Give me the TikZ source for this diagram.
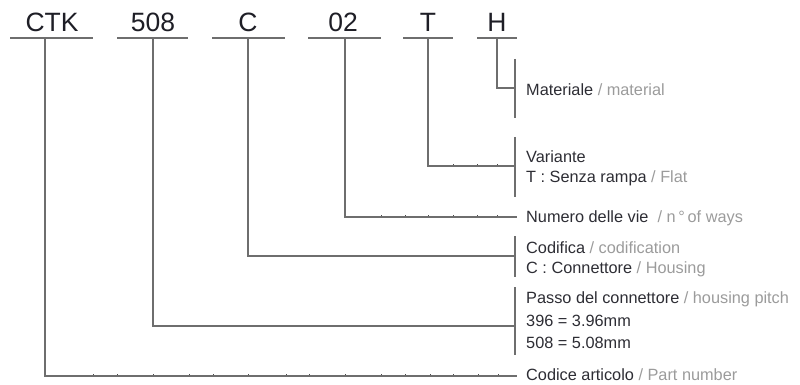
\documentclass[tikz,border=0pt]{standalone}
\usepackage{fontspec}
\setmainfont{Liberation Sans}
\definecolor{linec}{RGB}{110,110,110}
\definecolor{itc}{RGB}{45,45,52}
\definecolor{enc}{RGB}{155,155,155}
\definecolor{codec}{RGB}{30,30,38}
\begin{document}
\begin{tikzpicture}[x=1pt,y=-1pt]
\tikzset{
  code/.style={font=\fontsize{26.5}{30}\selectfont,text=codec,anchor=base,inner sep=0pt},
  desc/.style={font=\fontsize{16.3}{20}\selectfont,text=itc,anchor=base west,inner sep=0pt},
  ln/.style={draw=linec,line width=1.3pt},
  tk/.style={draw=linec!70!black,line width=0.9pt}
}
\useasboundingbox (0,0) rectangle (800,385);

% code labels
\node[code] (ctk) at (52,32) {CTK};
\node[code] (p508) at (153,32) {508};
\node[code] (cc) at (248,32) {C};
\node[code] (n02) at (343,32) {02};
\node[code] (tt) at (428,32) {T};
\node[code] (hh) at (497,32) {H};

% underlines
\draw[ln] (10,38) -- (93,38);
\draw[ln] (117,38) -- (188,38);
\draw[ln] (212,38) -- (285,38);
\draw[ln] (308,38) -- (381,38);
\draw[ln] (403,38) -- (453,38);
\draw[ln] (477,38) -- (517,38);

% top of the stems
\coordinate (sCTK) at (45,38);
\coordinate (s508) at (153,38);
\coordinate (sC) at (248,38);
\coordinate (s02) at (345,38);
\coordinate (sT) at (428,38);
\coordinate (sH) at (497,38);

% ends on the right
\coordinate (eH) at (515,88);
\coordinate (eT) at (515,166);
\coordinate (e02) at (517,217);
\coordinate (eC) at (515,256);
\coordinate (e508) at (515,326);
\coordinate (eCTK) at (517,376);

% brackets
\coordinate (bHt) at (515,59);   \coordinate (bHb) at (515,118);
\coordinate (bTt) at (515,137);  \coordinate (bTb) at (515,197);
\coordinate (bCt) at (515,236);  \coordinate (bCb) at (515,277);
\coordinate (b5t) at (515,287);  \coordinate (b5b) at (515,355);

% ticks
\foreach \x in {453,477,497} \draw[tk] (\x,166) -- (\x,164.2);
\foreach \x in {381,405,428,453,477,497} \draw[tk] (\x,217) -- (\x,215.2);
\foreach \x in {93,117,153,189,213,248,286,309,345,381,405,430,453,478,498} \draw[tk] (\x,376) -- (\x,374.2);

% connectors
\draw[ln] (sH) |- (eH);
\draw[ln] (sT) |- (eT);
\draw[ln] (s02) |- (e02);
\draw[ln] (sC) |- (eC);
\draw[ln] (s508) |- (e508);
\draw[ln] (sCTK) |- (eCTK);
\draw[ln] (bHt) -- (bHb);
\draw[ln] (bTt) -- (bTb);
\draw[ln] (bCt) -- (bCb);
\draw[ln] (b5t) -- (b5b);

% descriptions
\node[desc] (dH) at (526,96) {Materiale \textcolor{enc}{/ material}};
\node[desc] (dT1) at (526,162) {Variante};
\node[desc] (dT2) at (526,182) {T : Senza rampa \textcolor{enc}{/ Flat}};
\node[desc] (d02) at (526,222) {Numero delle vie \ \textcolor{enc}{/ n\,°\,of ways}};
\node[desc] (dC1) at (526,253) {Codifica \textcolor{enc}{/ codification}};
\node[desc] (dC2) at (526,273) {C : Connettore \textcolor{enc}{/ Housing}};
\node[desc] (d51) at (526,303) {Passo del connettore \textcolor{enc}{/ housing pitch}};
\node[desc] (d52) at (526,326) {396 = 3.96mm};
\node[desc] (d53) at (526,348) {508 = 5.08mm};
\node[desc] (dCTK) at (526,380) {Codice articolo \textcolor{enc}{/ Part number}};
\end{tikzpicture}
\end{document}
